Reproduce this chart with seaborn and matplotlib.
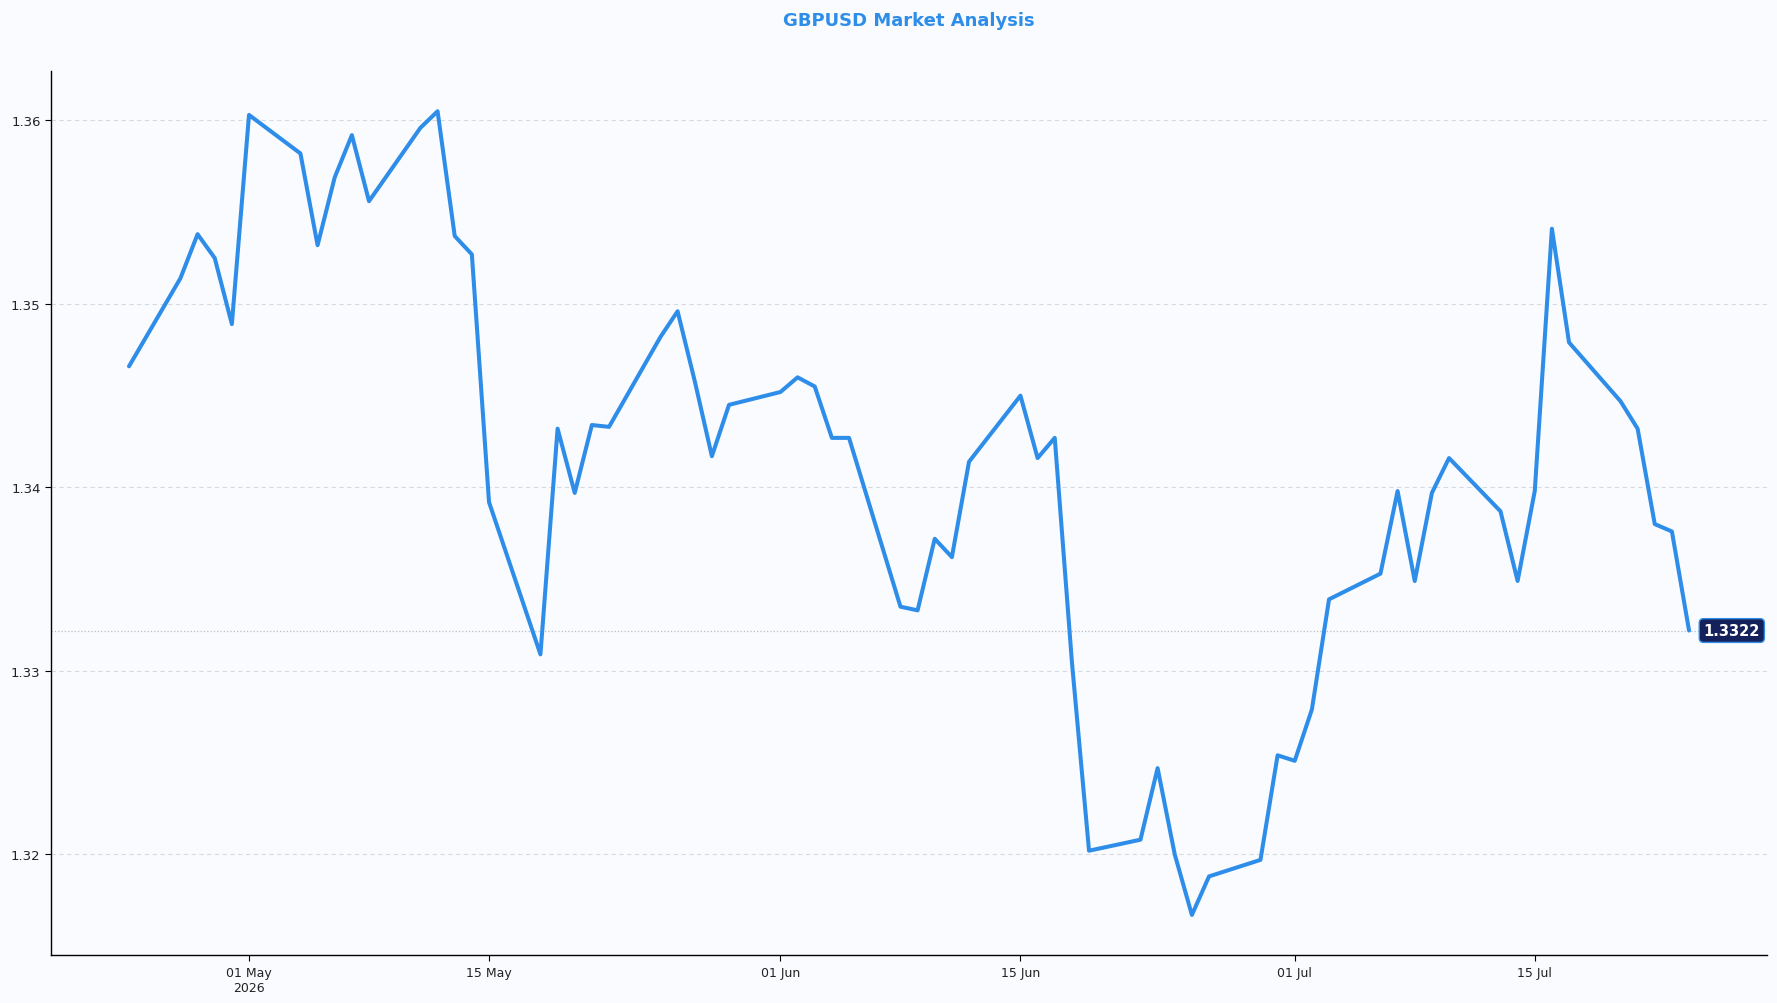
import matplotlib
matplotlib.use("Agg")
import matplotlib.pyplot as plt
import matplotlib.dates as mdates
import seaborn as sns
import pandas as pd
import numpy as np

# ---- data ----
start_date = "2026-04-24"
end_date = "2026-07-24"
prices = [
    1.3466,
    1.3514, 1.3538, 1.3525, 1.3489, 1.3603,
    1.3582, 1.3532, 1.3569, 1.3592, 1.3556,
    1.3596, 1.3605, 1.3537, 1.3527, 1.3392,
    1.3309, 1.3432, 1.3397, 1.3434, 1.3433,
    1.3482, 1.3496, 1.3458, 1.3417, 1.3445,
    1.3452, 1.3460, 1.3455, 1.3427, 1.3427,
    1.3335, 1.3333, 1.3372, 1.3362, 1.3414,
    1.3450, 1.3416, 1.3427, 1.3305, 1.3202,
    1.3208, 1.3247, 1.3200, 1.3167, 1.3188,
    1.3197, 1.3254, 1.3251, 1.3279, 1.3339,
    1.3353, 1.3398, 1.3349, 1.3397, 1.3416,
    1.3387, 1.3349, 1.3398, 1.3541, 1.3479,
    1.3447, 1.3432, 1.3380, 1.3376, 1.3322,
]
tick_dates = ["2026-05-01", "2026-05-15", "2026-06-01", "2026-06-15", "2026-07-01", "2026-07-15"]
tick_labels = ["01 May\n2026", "15 May", "01 Jun", "15 Jun", "01 Jul", "15 Jul"]
y_ticks = [1.32, 1.33, 1.34, 1.35, 1.36]
title = "GBPUSD Market Analysis"

dates = pd.bdate_range(start_date, end_date)
df = pd.DataFrame({"date": dates, "price": prices})

# ---- style ----
bg = "#f9fbfe"
line_color = "#2e8de8"
sns.set_theme(style="white")
plt.rcParams["font.family"] = ["DejaVu Sans"]

fig = plt.figure(figsize=(17.77, 10.04), dpi=100, facecolor=bg)
ax = fig.add_axes([0.0287, 0.0477, 0.9657, 0.8805])
ax.set_facecolor(bg)

sns.lineplot(data=df, x="date", y="price", ax=ax, color=line_color, linewidth=2.9)

ax.margins(x=0.05, y=0.05)

# grid
ax.yaxis.grid(True, linestyle=(0, (4, 3)), color="#d5dae0", linewidth=0.8)
ax.xaxis.grid(False)
ax.set_axisbelow(True)

# last price line + label
last_val = prices[-1]
ax.axhline(last_val, color="#b8bec6", linestyle=":", linewidth=0.9, zorder=1)
ax.annotate(f"{last_val:.4f}", xy=(dates[-1], last_val), xytext=(10.5, 0),
            textcoords="offset points", ha="left", va="center",
            fontsize=10.5, fontweight="bold", color="white",
            bbox=dict(boxstyle="round,pad=0.3", fc="#15215a", ec="#2e8de8", lw=1.0))

# ticks
ax.set_xticks(pd.to_datetime(tick_dates))
ax.set_xticklabels(tick_labels, fontsize=9)
ax.set_yticks(y_ticks)
ax.set_yticklabels([f"{v:.2f}" for v in y_ticks], fontsize=9.5)
ax.tick_params(axis="both", which="both", direction="out", length=4, width=0.8,
               color="black", bottom=True, left=True, labelcolor="#222222")
ax.set_xlabel("")
ax.set_ylabel("")

sns.despine(ax=ax)
for s in ["left", "bottom"]:
    ax.spines[s].set_color("black")
    ax.spines[s].set_linewidth(1.0)

ax.set_title(title, fontsize=13, fontweight="bold", color=line_color, pad=33)

fig.savefig("out.png", dpi=100, facecolor=bg)
